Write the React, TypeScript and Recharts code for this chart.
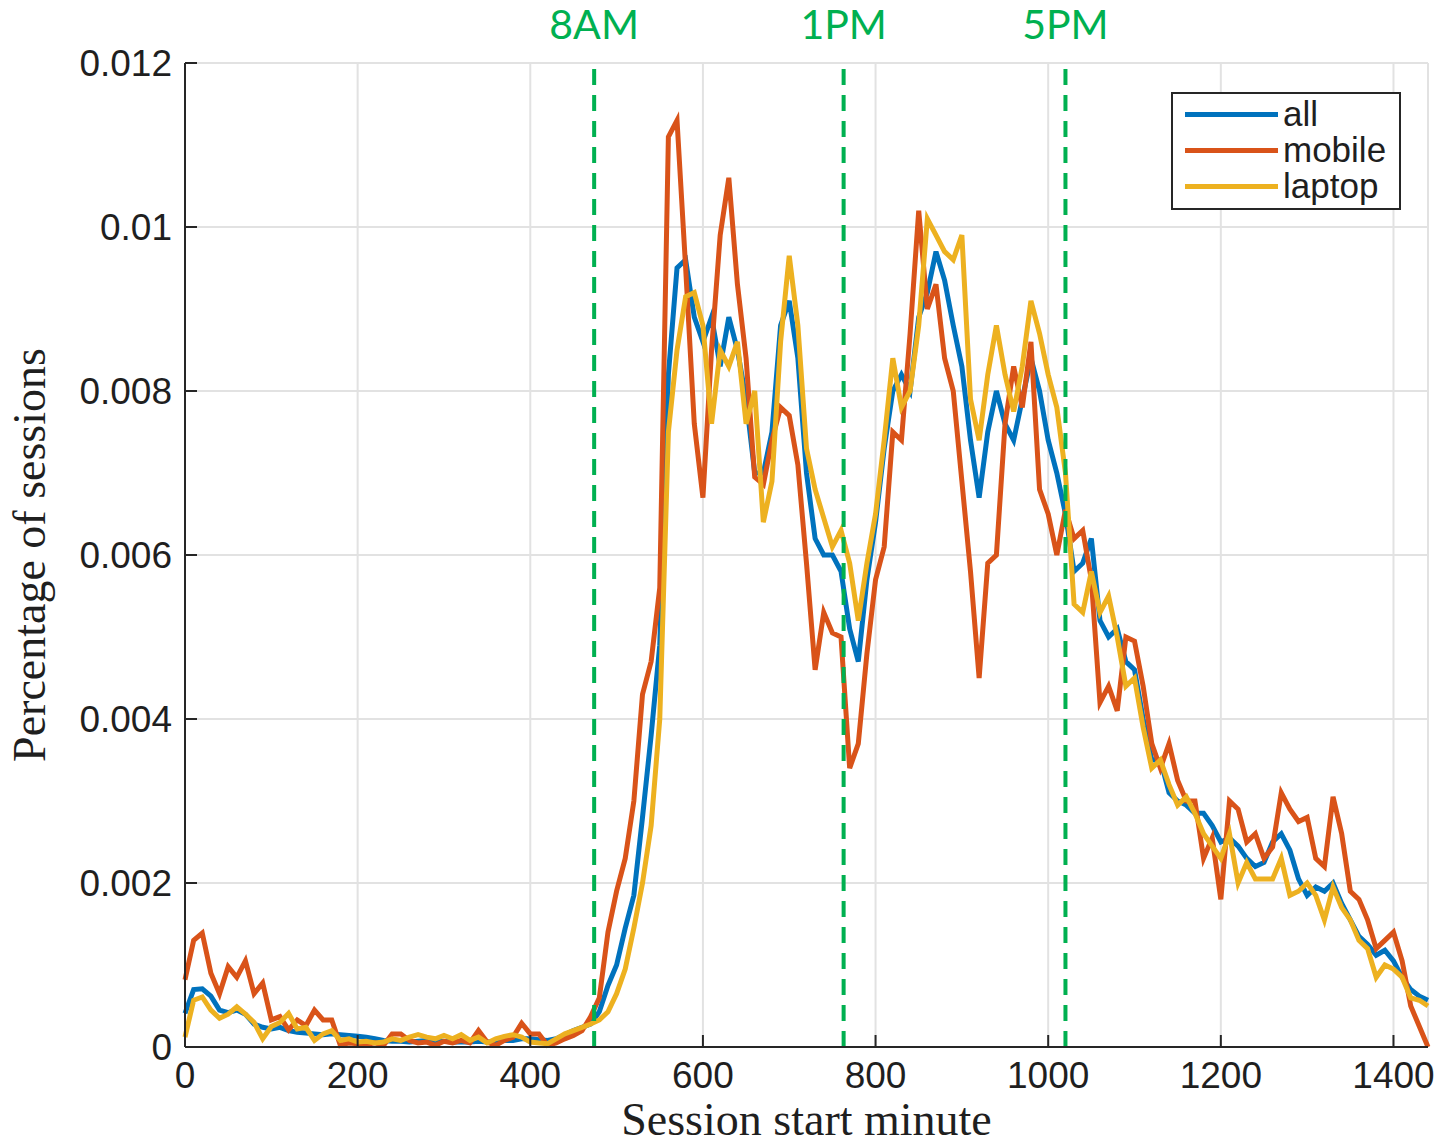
import React from 'react'
import { LineChart, Line, XAxis, YAxis, CartesianGrid, ReferenceLine, Legend, Label } from 'recharts'

// session start minute (10-minute bins)
const minutes = [
  0, 10, 20, 30, 40, 50, 60, 70, 80, 90, 100, 110, 120, 130, 140, 150, 160, 170, 180, 190,
  200, 210, 220, 230, 240, 250, 260, 270, 280, 290, 300, 310, 320, 330, 340, 350, 360, 370, 380, 390,
  400, 410, 420, 430, 440, 450, 460, 470, 480, 490, 500, 510, 520, 530, 540, 550, 560, 570, 580, 590,
  600, 610, 620, 630, 640, 650, 660, 670, 680, 690, 700, 710, 720, 730, 740, 750, 760, 770, 780, 790,
  800, 810, 820, 830, 840, 850, 860, 870, 880, 890, 900, 910, 920, 930, 940, 950, 960, 970, 980, 990,
  1000, 1010, 1020, 1030, 1040, 1050, 1060, 1070, 1080, 1090, 1100, 1110, 1120, 1130, 1140, 1150, 1160, 1170, 1180, 1190,
  1200, 1210, 1220, 1230, 1240, 1250, 1260, 1270, 1280, 1290, 1300, 1310, 1320, 1330, 1340, 1350, 1360, 1370, 1380, 1390,
  1400, 1410, 1420, 1430, 1440,
]

const allSessions = [
  0.00041, 0.0007, 0.00071, 0.00062, 0.00045, 0.00042, 0.00045, 0.0004, 0.00028, 0.00024,
  0.00022, 0.00024, 0.0002, 0.00018, 0.00017, 0.00016, 0.00015, 0.00016, 0.00015, 0.00014,
  0.00013, 0.00012, 0.0001, 0.00008, 0.00007, 0.00007, 0.00006, 0.00007, 0.00008, 0.00007,
  0.00007, 0.00006, 0.00006, 0.00006, 0.00007, 0.00006, 0.00007, 0.00008, 0.00008, 0.0001,
  0.0001, 0.00009, 0.00008, 0.0001, 0.00015, 0.0002, 0.00024, 0.00028, 0.00043, 0.00075,
  0.001, 0.00145, 0.00185, 0.0028, 0.0038, 0.0049, 0.0082, 0.0095, 0.0096, 0.0089,
  0.0086, 0.0089, 0.0083, 0.0089, 0.0085, 0.0079, 0.007, 0.007, 0.0075, 0.0088,
  0.0091, 0.0084, 0.007, 0.0062, 0.006, 0.006, 0.0058, 0.0051, 0.0047, 0.0057,
  0.0064, 0.0073, 0.008, 0.0082, 0.008, 0.0089, 0.0092, 0.0097, 0.00935, 0.0088,
  0.0083, 0.0074, 0.0067, 0.0075, 0.008, 0.0076, 0.0074, 0.0079, 0.0084, 0.008,
  0.0074, 0.007, 0.0065, 0.0058, 0.0059, 0.0062, 0.0052, 0.005, 0.0051, 0.0047,
  0.0046, 0.004, 0.0035, 0.0035, 0.0031, 0.003, 0.00295, 0.00285, 0.00285, 0.0027,
  0.0025, 0.00255, 0.00245, 0.0023, 0.0022, 0.00225, 0.0025, 0.0026, 0.0024, 0.00205,
  0.00185, 0.00195, 0.0019, 0.002, 0.00175, 0.00155, 0.00135, 0.00125, 0.00112, 0.00118,
  0.00105, 0.00085, 0.0007, 0.00062, 0.00057,
]

const mobileSessions = [
  0.00082, 0.0013, 0.00139, 0.0009, 0.00065, 0.00098, 0.00085, 0.00105, 0.00065, 0.00078,
  0.00033, 0.00037, 0.00021, 0.00033, 0.00026, 0.00045, 0.00033, 0.00033, 0.00002, 0.00005,
  0.00004, 0.00003, 0.00005, 0.00002, 0.00016, 0.00016, 0.00008, 0.00005, 0.00006, 0.00002,
  0.00007, 0.00005, 0.00008, 0.00005, 0.0002, 0.00006, 0.00002, 0.00008, 0.00012, 0.00029,
  0.00016, 0.00016, 0.00002, 0.00005, 0.0001, 0.00014, 0.0002, 0.00037, 0.0006, 0.0014,
  0.0019, 0.0023, 0.003, 0.0043, 0.0047, 0.0056, 0.0111, 0.0113, 0.0095, 0.0076,
  0.0067, 0.0085, 0.0099, 0.0106, 0.0093, 0.0084, 0.00695, 0.00686, 0.0074, 0.0078,
  0.0077, 0.0071, 0.0059, 0.0046, 0.0053, 0.00505, 0.005, 0.0034, 0.0037, 0.0048,
  0.0057, 0.0061, 0.0075, 0.0074, 0.0087, 0.0102, 0.009, 0.0093, 0.0084, 0.008,
  0.0069, 0.0058, 0.0045, 0.0059, 0.006, 0.0076, 0.0083, 0.0078, 0.0086, 0.0068,
  0.0065, 0.006, 0.00655, 0.0062, 0.0063, 0.0057, 0.0042, 0.0044, 0.0041, 0.005,
  0.00495, 0.0044, 0.0037, 0.0034, 0.0037, 0.00325, 0.003, 0.003, 0.0023, 0.00255,
  0.0018, 0.003, 0.0029, 0.0025, 0.0026, 0.0023, 0.00244, 0.0031, 0.0029, 0.00275,
  0.0028, 0.0023, 0.0022, 0.00305, 0.0026, 0.0019, 0.0018, 0.00155, 0.0012, 0.0013,
  0.0014, 0.00105, 0.0005, 0.00025, 0,
]

const laptopSessions = [
  0.00012, 0.00057, 0.00061, 0.00045, 0.00035, 0.0004, 0.00049, 0.0004, 0.0003, 0.0001,
  0.00025, 0.0003, 0.00041, 0.00022, 0.00024, 0.00008, 0.00016, 0.0002, 0.00008, 0.0001,
  0.00006, 0.00007, 0.00005, 0.00006, 0.0001, 0.00008, 0.00012, 0.00015, 0.00012, 0.0001,
  0.00014, 0.0001, 0.00015, 0.00008, 0.00012, 0.00005, 0.0001, 0.00013, 0.00015, 0.00012,
  0.00006, 0.00005, 0.00004, 0.0001, 0.00016, 0.0002, 0.00024, 0.00028, 0.00033, 0.00043,
  0.00065, 0.00095, 0.00145, 0.002, 0.0027, 0.004, 0.0075, 0.0085, 0.00915, 0.0092,
  0.0088, 0.0076, 0.0085, 0.0083, 0.0086, 0.0076, 0.008, 0.0064, 0.0069, 0.0086,
  0.00965, 0.0088, 0.0073, 0.0068, 0.00645, 0.0061, 0.0063, 0.0059, 0.0052, 0.0059,
  0.0065, 0.0074, 0.0084, 0.0078, 0.008, 0.0088, 0.0101, 0.0099, 0.0097, 0.0096,
  0.0099, 0.0079, 0.0074, 0.0082, 0.0088, 0.0082, 0.00775, 0.0083, 0.0091, 0.0087,
  0.0082, 0.0078, 0.007, 0.0054, 0.0053, 0.0058, 0.0053, 0.0055, 0.005, 0.0044,
  0.0045, 0.0039, 0.0034, 0.0035, 0.0032, 0.00295, 0.00305, 0.00285, 0.0026, 0.00245,
  0.0023, 0.0026, 0.002, 0.00225, 0.00205, 0.00205, 0.00205, 0.0023, 0.00185, 0.0019,
  0.002, 0.00185, 0.00155, 0.00195, 0.0017, 0.00155, 0.0013, 0.0012, 0.00085, 0.001,
  0.00095, 0.00085, 0.0006, 0.00057, 0.0005,
]

const xTicks = [0, 200, 400, 600, 800, 1000, 1200, 1400]
const yTicks = [0, 0.002, 0.004, 0.006, 0.008, 0.01, 0.012]

const timeMarkers = [
  { minute: 474, text: '8AM' },
  { minute: 763, text: '1PM' },
  { minute: 1020, text: '5PM' },
]

const seriesInfo = [
  { key: 'all', name: 'all', color: '#0072BD' },
  { key: 'mobile', name: 'mobile', color: '#D95319' },
  { key: 'laptop', name: 'laptop', color: '#EDB120' },
]

const chartData = minutes.map((m, i) => ({
  minute: m,
  all: allSessions[i],
  mobile: mobileSessions[i],
  laptop: laptopSessions[i],
}))

const axisColor = '#262626'
const tickFont = { fontSize: 37, fontFamily: '"Liberation Sans", Arial, sans-serif', fill: '#1f1f1f' }
const titleFont = '"Liberation Serif", "Times New Roman", serif'

const LegendBox = () => (
  <div
    style={{
      border: `2px solid ${axisColor}`,
      background: '#fff',
      width: 230,
      height: 118,
      boxSizing: 'border-box',
      padding: '2px 0 0 12px',
      fontFamily: '"Liberation Sans", Arial, sans-serif',
      fontSize: 35,
      color: '#1f1f1f',
    }}
  >
    {seriesInfo.map(s => (
      <div key={s.key} style={{ display: 'flex', alignItems: 'center', height: 36, lineHeight: '36px' }}>
        <div style={{ width: 93, height: 5, background: s.color, marginRight: 5 }} />
        <span>{s.name}</span>
      </div>
    ))}
  </div>
)

const XTitle = (props: any) => {
  const { x, y, width, height } = props.viewBox
  return (
    <text x={x + width / 2} y={y + height - 10} textAnchor="middle" fontFamily={titleFont} fontSize={46} fill="#1f1f1f">
      Session start minute
    </text>
  )
}

const YTitle = (props: any) => {
  const { x, y, height } = props.viewBox
  const cx = x + 45
  const cy = y + height / 2
  return (
    <text x={cx} y={cy} transform={`rotate(-90, ${cx}, ${cy})`} textAnchor="middle" fontFamily={titleFont} fontSize={46} fill="#1f1f1f">
      Percentage of sessions
    </text>
  )
}

const markerLabel = (text: string) => (props: any) => {
  const { x, y } = props.viewBox
  return (
    <text x={x} y={y - 24} textAnchor="middle" fontFamily="Lato, 'Open Sans', sans-serif" fontSize={41} fill="#00B050">
      {text}
    </text>
  )
}

export default function App() {
  return (
    <div style={{ width: 1436, height: 1145, margin: '-8px 0 0 -8px' }}>
      <LineChart
        width={1436}
        height={1145}
        data={chartData}
        margin={{ top: 63, right: 8, left: 0, bottom: 0 }}
      >
        <CartesianGrid stroke="#e2e2e2" strokeWidth={2} />

        <XAxis
          dataKey="minute"
          type="number"
          domain={[0, 1440]}
          ticks={xTicks}
          interval={0}
          height={98}
          tickSize={-12}
          tickMargin={27}
          tick={tickFont}
          axisLine={{ stroke: axisColor, strokeWidth: 2 }}
          tickLine={{ stroke: axisColor, strokeWidth: 2 }}
        >
          <Label content={XTitle} />
        </XAxis>
        <XAxis
          xAxisId="top"
          orientation="top"
          dataKey="minute"
          type="number"
          domain={[0, 1440]}
          ticks={xTicks}
          interval={0}
          height={0}
          tickSize={-12}
          tick={false}
          axisLine={{ stroke: axisColor, strokeWidth: 2 }}
          tickLine={{ stroke: axisColor, strokeWidth: 2 }}
        />

        <YAxis
          type="number"
          domain={[0, 0.012]}
          ticks={yTicks}
          interval={0}
          width={185}
          tickSize={-12}
          tickMargin={25}
          tick={tickFont}
          tickFormatter={(v: number) => (v === 0 ? '0' : String(v))}
          axisLine={{ stroke: axisColor, strokeWidth: 2 }}
          tickLine={{ stroke: axisColor, strokeWidth: 2 }}
        >
          <Label content={YTitle} />
        </YAxis>
        <YAxis
          yAxisId="right"
          orientation="right"
          type="number"
          domain={[0, 0.012]}
          ticks={yTicks}
          interval={0}
          width={0}
          tickSize={-12}
          tick={false}
          axisLine={{ stroke: axisColor, strokeWidth: 2 }}
          tickLine={{ stroke: axisColor, strokeWidth: 2 }}
        />

        {seriesInfo.map(s => (
          <Line
            key={s.key}
            type="linear"
            dataKey={s.key}
            name={s.name}
            stroke={s.color}
            strokeWidth={5}
            dot={false}
            isAnimationActive={false}
          />
        ))}

        {timeMarkers.map(t => (
          <ReferenceLine
            key={t.text}
            x={t.minute}
            stroke="#00B050"
            strokeWidth={4}
            strokeDasharray="16 10"
            label={markerLabel(t.text)}
          />
        ))}

        <Legend
          layout="vertical"
          align="center"
          verticalAlign="middle"
          content={<LegendBox />}
          wrapperStyle={{ position: 'absolute', left: 1171, top: 92, width: 230, height: 118 }}
        />
      </LineChart>
    </div>
  )
}
